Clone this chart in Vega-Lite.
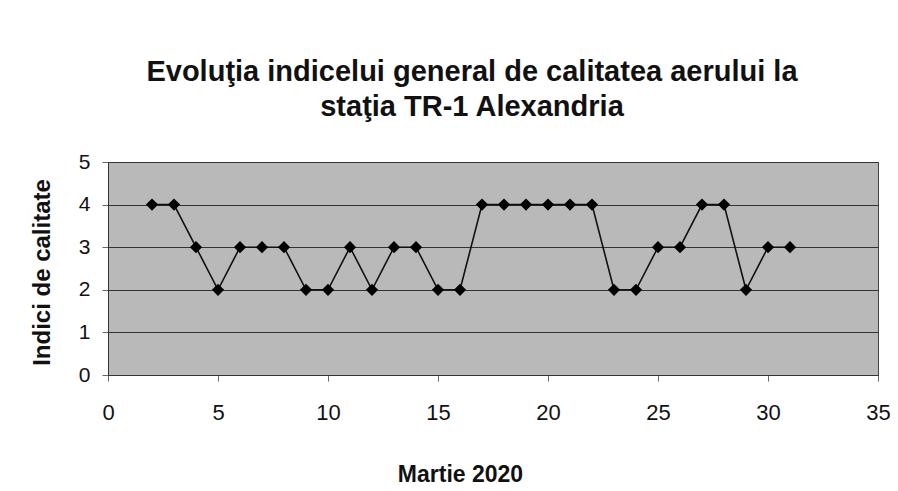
{
  "$schema": "https://vega.github.io/schema/vega-lite/v6.json",
  "autosize": {"type": "none"},
  "width": 770,
  "height": 213,
  "padding": {"left": 108, "top": 162, "right": 20, "bottom": 116},
  "background": "#ffffff",
  "title": {
    "text": ["Evoluţia indicelui general de calitatea aerului la", "staţia TR-1 Alexandria"],
    "font": "Liberation Sans",
    "fontSize": 29,
    "fontWeight": "bold",
    "color": "#111111",
    "anchor": "middle",
    "frame": "group",
    "dx": -21,
    "offset": 29,
    "lineHeight": 35
  },
  "config": {
    "view": {"fill": "#b9b9b9", "stroke": "#444444", "strokeWidth": 1},
    "axis": {"labelFont": "Liberation Sans", "titleFont": "Liberation Sans", "labelColor": "#111111", "titleColor": "#111111"}
  },
  "data": {
    "values": [
      {"day": 2, "index": 4}, {"day": 3, "index": 4}, {"day": 4, "index": 3}, {"day": 5, "index": 2},
      {"day": 6, "index": 3}, {"day": 7, "index": 3}, {"day": 8, "index": 3}, {"day": 9, "index": 2},
      {"day": 10, "index": 2}, {"day": 11, "index": 3}, {"day": 12, "index": 2}, {"day": 13, "index": 3},
      {"day": 14, "index": 3}, {"day": 15, "index": 2}, {"day": 16, "index": 2}, {"day": 17, "index": 4},
      {"day": 18, "index": 4}, {"day": 19, "index": 4}, {"day": 20, "index": 4}, {"day": 21, "index": 4},
      {"day": 22, "index": 4}, {"day": 23, "index": 2}, {"day": 24, "index": 2}, {"day": 25, "index": 3},
      {"day": 26, "index": 3}, {"day": 27, "index": 4}, {"day": 28, "index": 4}, {"day": 29, "index": 2},
      {"day": 30, "index": 3}, {"day": 31, "index": 3}
    ]
  },
  "encoding": {
    "x": {
      "field": "day", "type": "quantitative",
      "scale": {"domain": [0, 35], "nice": false, "zero": false},
      "axis": {
        "title": "Martie 2020", "values": [0, 5, 10, 15, 20, 25, 30, 35],
        "grid": false, "labelFontSize": 22, "labelPadding": 21, "tickSize": 6,
        "labelFlush": false, "labelOverlap": false,
        "tickColor": "#666666", "domainColor": "#333333",
        "titleFontSize": 23, "titleFontWeight": "bold",
        "titleX": 352, "titleY": 106, "titleAlign": "center", "titleBaseline": "alphabetic", "titleAnchor": null
      }
    },
    "y": {
      "field": "index", "type": "quantitative",
      "scale": {"domain": [0, 5], "nice": false},
      "axis": {
        "title": "Indici de calitate", "values": [0, 1, 2, 3, 4, 5],
        "grid": true, "gridColor": "#333333", "gridOpacity": 1, "gridWidth": 1,
        "labelFontSize": 21, "labelPadding": 12, "tickSize": 6,
        "labelFlush": false, "labelOverlap": false,
        "tickColor": "#666666", "domainColor": "#333333",
        "titleFontSize": 24, "titleFontWeight": "bold",
        "titleX": -66, "titleY": 110, "titleAlign": "center", "titleBaseline": "middle", "titleAngle": -90
      }
    }
  },
  "layer": [
    {"mark": {"type": "line", "color": "#111111", "strokeWidth": 1.6}},
    {"mark": {"type": "point", "shape": "diamond", "filled": true, "color": "#000000", "size": 150, "opacity": 1}}
  ]
}
